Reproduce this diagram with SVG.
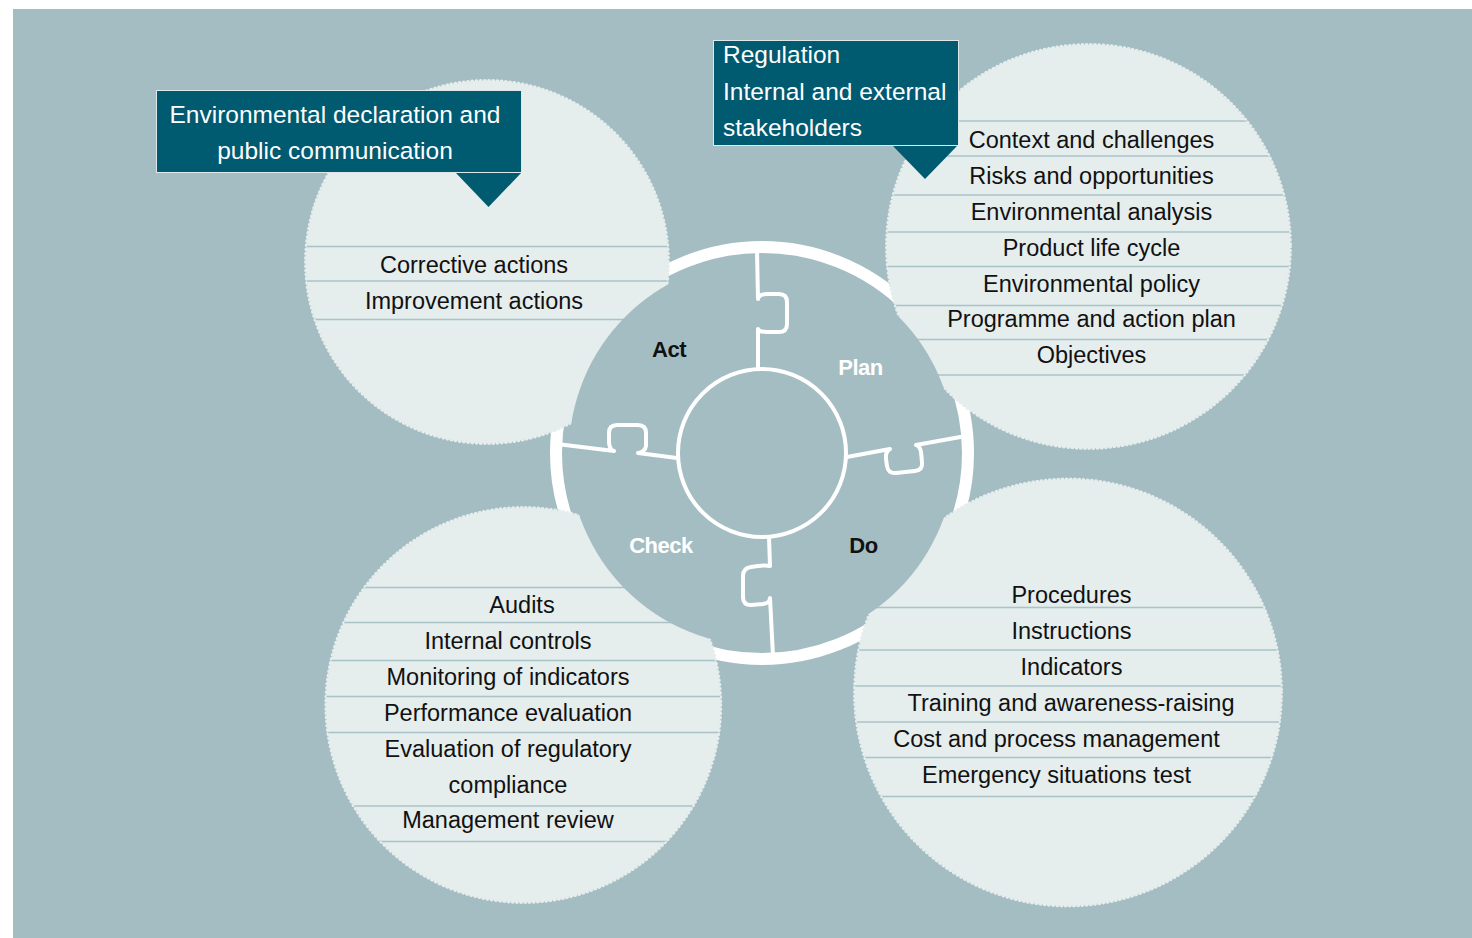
<svg xmlns="http://www.w3.org/2000/svg" width="1472" height="938" viewBox="0 0 1472 938">
<style>
.bg{fill:#a4bdc2}
.bubble{fill:#e5eded;stroke:#e5eded;stroke-width:4;stroke-dasharray:0.01 4.2;stroke-linecap:round}
.sep{stroke:#a9c3c9;stroke-width:1.5}
.item{font-family:"Liberation Sans",Arial,sans-serif;font-size:23.5px;fill:#111;text-anchor:middle}
.box{fill:#005a70;stroke:#dfe9ea;stroke-width:1}
.tri{fill:#005a70}
.ctext{font-family:"Liberation Sans",Arial,sans-serif;font-size:24.5px;fill:#ffffff}
.piece{fill:none;stroke:#ffffff;stroke-width:4;stroke-linejoin:round;stroke-linecap:round}
.lbl{font-family:"Liberation Sans",Arial,sans-serif;font-size:22px;font-weight:bold;text-anchor:middle;letter-spacing:-0.5px}
</style>
<defs>
<clipPath id="cAct"><circle cx="487" cy="262" r="181"/></clipPath>
<clipPath id="cPlan"><circle cx="1088.5" cy="246.5" r="201.5"/></clipPath>
<clipPath id="cCheck"><circle cx="523.3" cy="705" r="197"/></clipPath>
<clipPath id="cDo"><circle cx="1068" cy="692.5" r="213"/></clipPath>
</defs>
<rect class="bg" x="13" y="9" width="1459" height="929"/>
<g id="outer-ring"><circle cx="762" cy="453" r="206" fill="none" stroke="#ffffff" stroke-width="12"/></g>

<g id="act-bubble">
<circle class="bubble" cx="487" cy="262" r="181"/>
<g clip-path="url(#cAct)">
<line class="sep" x1="300" y1="246.5" x2="680" y2="246.5"/>
<line class="sep" x1="300" y1="281" x2="680" y2="281"/>
<line class="sep" x1="300" y1="319.5" x2="680" y2="319.5"/>
</g>
<text class="item" x="474" y="273">Corrective actions</text>
<text class="item" x="474" y="309">Improvement actions</text>
</g>

<g id="plan-bubble">
<circle class="bubble" cx="1088.5" cy="246.5" r="201.5"/>
<g clip-path="url(#cPlan)">
<line class="sep" x1="880" y1="121" x2="1300" y2="121"/>
<line class="sep" x1="880" y1="156" x2="1300" y2="156"/>
<line class="sep" x1="880" y1="195" x2="1300" y2="195"/>
<line class="sep" x1="880" y1="232" x2="1300" y2="232"/>
<line class="sep" x1="880" y1="266.5" x2="1300" y2="266.5"/>
<line class="sep" x1="880" y1="305.5" x2="1300" y2="305.5"/>
<line class="sep" x1="880" y1="339.5" x2="1300" y2="339.5"/>
<line class="sep" x1="880" y1="375" x2="1300" y2="375"/>
</g>
<text class="item" x="1091.5" y="148">Context and challenges</text>
<text class="item" x="1091.5" y="184">Risks and opportunities</text>
<text class="item" x="1091.5" y="220">Environmental analysis</text>
<text class="item" x="1091.5" y="256">Product life cycle</text>
<text class="item" x="1091.5" y="292">Environmental policy</text>
<text class="item" x="1091.5" y="327">Programme and action plan</text>
<text class="item" x="1091.5" y="363">Objectives</text>
</g>

<g id="check-bubble">
<circle class="bubble" cx="523.3" cy="705" r="197"/>
<g clip-path="url(#cCheck)">
<line class="sep" x1="320" y1="587.5" x2="730" y2="587.5"/>
<line class="sep" x1="320" y1="622.5" x2="730" y2="622.5"/>
<line class="sep" x1="320" y1="660.5" x2="730" y2="660.5"/>
<line class="sep" x1="320" y1="696.5" x2="730" y2="696.5"/>
<line class="sep" x1="320" y1="732.5" x2="730" y2="732.5"/>
<line class="sep" x1="320" y1="806" x2="730" y2="806"/>
<line class="sep" x1="320" y1="841.5" x2="730" y2="841.5"/>
</g>
<text class="item" x="522" y="613">Audits</text>
<text class="item" x="508" y="649">Internal controls</text>
<text class="item" x="508" y="685">Monitoring of indicators</text>
<text class="item" x="508" y="721">Performance evaluation</text>
<text class="item" x="508" y="757">Evaluation of regulatory</text>
<text class="item" x="508" y="793">compliance</text>
<text class="item" x="508" y="828">Management review</text>
</g>

<g id="do-bubble">
<circle class="bubble" cx="1068" cy="692.5" r="213"/>
<g clip-path="url(#cDo)">
<line class="sep" x1="850" y1="607.5" x2="1290" y2="607.5"/>
<line class="sep" x1="850" y1="650" x2="1290" y2="650"/>
<line class="sep" x1="850" y1="686" x2="1290" y2="686"/>
<line class="sep" x1="850" y1="722" x2="1290" y2="722"/>
<line class="sep" x1="850" y1="757.5" x2="1290" y2="757.5"/>
<line class="sep" x1="850" y1="796.5" x2="1290" y2="796.5"/>
</g>
<text class="item" x="1071.5" y="603">Procedures</text>
<text class="item" x="1071.5" y="639">Instructions</text>
<text class="item" x="1071.5" y="675">Indicators</text>
<text class="item" x="1071" y="711">Training and awareness-raising</text>
<text class="item" x="1056.5" y="747">Cost and process management</text>
<text class="item" x="1056.5" y="783">Emergency situations test</text>
</g>

<g id="pdca-wheel">
<circle cx="762" cy="453" r="193" class="bg"/>
<circle cx="762" cy="453" r="84" fill="none" stroke="#ffffff" stroke-width="4"/>
</g>

<g id="connectors">
<path class="piece" d="M758,369 L758,329 Q759,332 767,332 L779,332 Q787,332 787,324 L787,302 Q787,294 779,294 L767,294 Q759,294 758,299 L757,251"/>
<path class="piece" d="M847,457 L890,449 Q885,452 886,459 L887,466 Q888,474 896,473 L915,471 Q923,470 922,462 L921,452 Q920,446 916,445 L966,436"/>
<path class="piece" d="M769,537 L770,566 Q766,565 758,566 L751,567 Q743,568 743,576 L743,597 Q743,605 751,605 L763,604 Q770,603 770,598 L773,656"/>
<path class="piece" d="M677,458 L638,453 Q645,452 646,446 L646,433 Q646,425 638,425 L617,425 Q609,425 609,433 L609,443 Q610,450 614,451 L557,444"/>
</g>

<g id="act-label"><text class="lbl" x="669" y="357" fill="#111">Act</text></g>
<g id="plan-label"><text class="lbl" x="860.5" y="375" fill="#ffffff">Plan</text></g>
<g id="check-label"><text class="lbl" x="661" y="553" fill="#ffffff">Check</text></g>
<g id="do-label"><text class="lbl" x="863.5" y="553" fill="#111">Do</text></g>

<g id="callout-declaration">
<polygon class="tri" points="455,172 522,172 488.5,207"/>
<rect class="box" x="156.5" y="90.5" width="365" height="82"/>
<text class="ctext" x="335" y="123" text-anchor="middle">Environmental declaration and</text>
<text class="ctext" x="335" y="159" text-anchor="middle">public communication</text>
</g>

<g id="callout-regulation">
<polygon class="tri" points="892,145 958,145 925,179"/>
<rect class="box" x="713.5" y="40.5" width="245" height="105"/>
<text class="ctext" x="723" y="63">Regulation</text>
<text class="ctext" x="723" y="100">Internal and external</text>
<text class="ctext" x="723" y="136">stakeholders</text>
</g>
</svg>
